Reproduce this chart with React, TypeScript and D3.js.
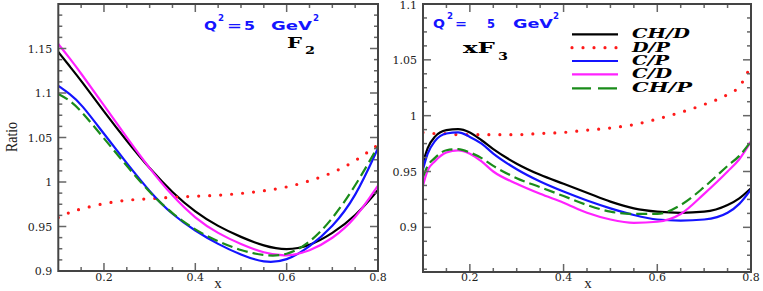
import React from "react";
import * as d3 from "d3";

// F2 panel (left)
const xF2 = [0.1, 0.125, 0.15, 0.2, 0.25, 0.3, 0.35, 0.4, 0.45, 0.5, 0.55, 0.6, 0.65, 0.7, 0.75, 0.8];
const f2CHD = [1.146, 1.130, 1.114, 1.079, 1.046, 1.015, 0.988, 0.966, 0.950, 0.938, 0.928, 0.923, 0.928, 0.942, 0.961, 0.991];
const f2DP = [0.960, 0.966, 0.970, 0.976, 0.980, 0.981, 0.983, 0.984, 0.985, 0.987, 0.990, 0.994, 1.001, 1.010, 1.023, 1.042];
const f2CP = [1.108, 1.099, 1.088, 1.054, 1.021, 0.989, 0.963, 0.945, 0.930, 0.918, 0.909, 0.911, 0.927, 0.949, 0.982, 1.038];
const f2CD = [1.155, 1.139, 1.122, 1.086, 1.050, 1.015, 0.984, 0.959, 0.942, 0.930, 0.920, 0.916, 0.922, 0.936, 0.958, 0.996];
const f2CHP = [1.099, 1.092, 1.080, 1.049, 1.018, 0.988, 0.964, 0.946, 0.933, 0.923, 0.917, 0.917, 0.931, 0.958, 0.995, 1.040];

// xF3 panel (right)
const xF3 = [0.1, 0.11, 0.125, 0.15, 0.175, 0.2, 0.225, 0.25, 0.3, 0.35, 0.4, 0.45, 0.5, 0.55, 0.6, 0.65, 0.7, 0.75, 0.775, 0.8];
const f3CHD = [0.958, 0.971, 0.981, 0.987, 0.988, 0.985, 0.978, 0.970, 0.957, 0.947, 0.939, 0.931, 0.923, 0.917, 0.914, 0.913, 0.914, 0.920, 0.926, 0.935];
const f3DP = [0.985, 0.985, 0.984, 0.984, 0.983, 0.983, 0.983, 0.983, 0.983, 0.984, 0.985, 0.987, 0.989, 0.992, 0.997, 1.003, 1.010, 1.019, 1.026, 1.045];
const f3CP = [0.952, 0.966, 0.977, 0.984, 0.985, 0.981, 0.975, 0.966, 0.952, 0.941, 0.932, 0.924, 0.917, 0.911, 0.907, 0.906, 0.907, 0.913, 0.921, 0.934];
const f3CD = [0.9375, 0.951, 0.959, 0.967, 0.969, 0.966, 0.959, 0.950, 0.939, 0.930, 0.922, 0.913, 0.907, 0.904, 0.905, 0.912, 0.930, 0.950, 0.961, 0.977];
const f3CHP = [0.945, 0.955, 0.962, 0.969, 0.970, 0.967, 0.962, 0.955, 0.944, 0.936, 0.928, 0.920, 0.914, 0.912, 0.912, 0.920, 0.936, 0.955, 0.964, 0.977];

const seriesNames = ["CH/D", "D/P", "C/P", "C/D", "CH/P"];
const xTicks = [0.2, 0.4, 0.6, 0.8];
const yTicksF2 = [0.9, 0.95, 1, 1.05, 1.1, 1.15];
const yTicksF3 = [0.9, 0.95, 1, 1.05, 1.1];

const styles: Record<string, any> = {
  "CH/D": { color: "#000000", dash: null, width: 2.2 },
  "D/P": { color: "#ff1a1a", dash: "0,11", width: 3.2, cap: "round" },
  "C/P": { color: "#1414ff", dash: null, width: 2.2 },
  "C/D": { color: "#ff22ff", dash: null, width: 2.2 },
  "CH/P": { color: "#1a8c1a", dash: "11,5", width: 2.2 },
};

const fmt = d3.format("~g");

function Panel({ left, right, top, bottom, yDomain, yTicks, xs, series, xLabelX, curve }: any) {
  const x = d3.scaleLinear().domain([0.1, 0.8]).range([left, right]);
  const y = d3.scaleLinear().domain(yDomain).range([bottom, top]);
  const line = d3.line<number>().x((d, i) => x(xs[i])).y(d => y(d)).curve(curve);
  const minorX = d3.range(0.15, 0.8, 0.05).map(v => +v.toFixed(3));
  const minorY = d3.range(Math.ceil(yDomain[0] / 0.0125) * 0.0125, yDomain[1], 0.0125).map(v => +v.toFixed(4));
  const tickCol = "#666";
  return (
    <g>
      <defs>
        <clipPath id={`clip${left}`}>
          <rect x={left} y={top} width={right - left} height={bottom - top} />
        </clipPath>
      </defs>
      <g clipPath={`url(#clip${left})`}>
        {seriesNames.map((name, i) => {
          const s = styles[name];
          return (
            <path key={name} d={line(series[i]) || ""} fill="none" stroke={s.color}
              strokeWidth={s.width} strokeDasharray={s.dash || undefined}
              strokeLinecap={s.cap || "butt"} />
          );
        })}
      </g>
      {/* ticks, all four sides, pointing in */}
      {minorX.map(v => {
        const major = xTicks.some(t => Math.abs(t - v) < 1e-6);
        const len = major ? 8 : 4;
        return (
          <g key={"x" + v} stroke={tickCol} strokeWidth={1.5}>
            <line x1={x(v)} x2={x(v)} y1={bottom} y2={bottom - len} />
            <line x1={x(v)} x2={x(v)} y1={top} y2={top + len} />
          </g>
        );
      })}
      {minorY.map(v => {
        const major = yTicks.some((t: number) => Math.abs(t - v) < 1e-6);
        const len = major ? 8 : 4;
        return (
          <g key={"y" + v} stroke={tickCol} strokeWidth={1.5}>
            <line x1={left} x2={left + len} y1={y(v)} y2={y(v)} />
            <line x1={right} x2={right - len} y1={y(v)} y2={y(v)} />
          </g>
        );
      })}
      <rect x={left} y={top} width={right - left} height={bottom - top} fill="none" stroke="#444" strokeWidth={2} />
      {/* tick labels */}
      {yTicks.map((v: number) => (
        <text key={"yl" + v} x={left - 6} y={Math.max(y(v) + 4, 9)} textAnchor="end" fontFamily="DejaVu Serif"
          fontSize={11} fill="#222">{fmt(v)}</text>
      ))}
      {xTicks.map(v => (
        <text key={"xl" + v} x={x(v)} y={281} textAnchor="middle" fontFamily="DejaVu Serif"
          fontSize={11} fill="#222">{fmt(v)}</text>
      ))}
      <text x={xLabelX} y={288} textAnchor="middle" fontFamily="Liberation Serif" fontSize={15} fill="#222">x</text>
    </g>
  );
}

function Piece({ t, x, y, w, size, fill, family, weight, style }: any) {
  return (
    <text x={x} y={y} fontSize={size} fill={fill} fontFamily={family} fontWeight={weight}
      fontStyle={style} textLength={w} lengthAdjust="spacingAndGlyphs">{t}</text>
  );
}

export default function App() {
  const blue = "#1414ff";
  const sans = "DejaVu Sans";
  const serif = "DejaVu Serif";
  const legendRows = [34.3, 47.7, 61, 74.3, 88.3];
  const legendW = [58, 38, 37, 40, 60];
  return (
    <svg width={763} height={291} style={{ position: "absolute", left: 0, top: 0, background: "#fff" }}>
      <Panel left={58.3} right={378} top={4} bottom={271} yDomain={[0.9, 1.2]} yTicks={yTicksF2}
        xs={xF2} series={[f2CHD, f2DP, f2CP, f2CD, f2CHP]} xLabelX={218} curve={d3.curveBasis} />
      <Panel left={423} right={751} top={4} bottom={272} yDomain={[0.86, 1.1]} yTicks={yTicksF3}
        xs={xF3} series={[f3CHD, f3DP, f3CP, f3CD, f3CHP]} xLabelX={588} curve={d3.curveMonotoneX} />

      <text transform="translate(17,137) rotate(-90)" textAnchor="middle" fontFamily="Liberation Serif"
        fontSize={17} fill="#222" textLength={30} lengthAdjust="spacingAndGlyphs">Ratio</text>

      {/* left annotations */}
      <Piece t="Q" x={204} y={30} w={13} size={13} fill={blue} family={sans} weight="bold" />
      <Piece t="2" x={218} y={21} w={6} size={8} fill={blue} family={sans} weight="bold" />
      <Piece t="=" x={227} y={30} w={15} size={13} fill={blue} family={sans} weight="bold" />
      <Piece t="5" x={244} y={30} w={11} size={13} fill={blue} family={sans} weight="bold" />
      <Piece t="GeV" x={271} y={30} w={41} size={13} fill={blue} family={sans} weight="bold" />
      <Piece t="2" x={313} y={21} w={6} size={8} fill={blue} family={sans} weight="bold" />
      <Piece t="F" x={287} y={48} w={15} size={14} fill="#000" family={serif} weight="bold" />
      <Piece t="2" x={305} y={54} w={10} size={11} fill="#000" family={serif} weight="bold" />

      {/* right annotations */}
      <Piece t="Q" x={433} y={28} w={12} size={13} fill={blue} family={sans} weight="bold" />
      <Piece t="2" x={447} y={19} w={6} size={8} fill={blue} family={sans} weight="bold" />
      <Piece t="=" x={455} y={28} w={12} size={13} fill={blue} family={sans} weight="bold" />
      <Piece t="5" x={487} y={28} w={8} size={13} fill={blue} family={sans} weight="bold" />
      <Piece t="GeV" x={513} y={28} w={40} size={13} fill={blue} family={sans} weight="bold" />
      <Piece t="2" x={553} y={19} w={6} size={8} fill={blue} family={sans} weight="bold" />
      <Piece t="xF" x={463} y={53} w={32} size={14} fill="#000" family={serif} weight="bold" />
      <Piece t="3" x={498} y={60} w={10} size={11} fill="#000" family={serif} weight="bold" />

      {/* legend */}
      {seriesNames.map((name, i) => {
        const s = styles[name];
        return (
          <g key={name}>
            <line x1={572} x2={618} y1={legendRows[i]} y2={legendRows[i]} stroke={s.color}
              strokeWidth={s.width} strokeLinecap={s.cap || "butt"}
              strokeDasharray={name === "CH/P" ? "19,7" : s.dash || undefined} />
            <Piece t={name} x={632} y={legendRows[i] + 4} w={legendW[i]} size={12} fill="#000"
              family={serif} weight="bold" style="italic" />
          </g>
        );
      })}
    </svg>
  );
}
